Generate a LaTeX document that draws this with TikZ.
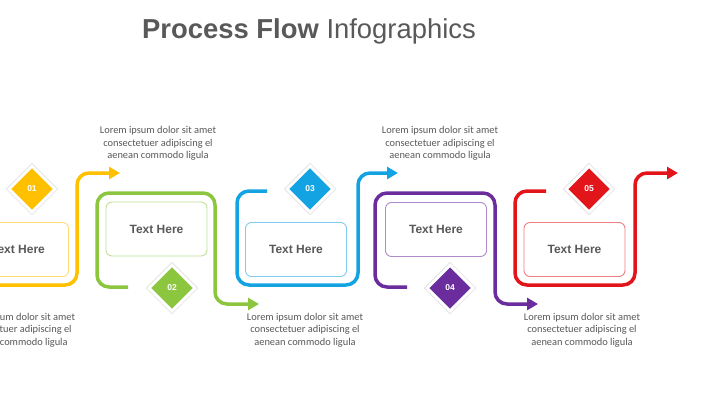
\documentclass[tikz,border=0pt]{standalone}
\usepackage{fontspec}
\setmainfont{Liberation Sans}
\newfontfamily\lorem{Carlito}
\usepackage{xcolor}
\usetikzlibrary{arrows.meta,shapes.geometric}
\definecolor{ink}{HTML}{595959}
\definecolor{cyel}{HTML}{FFC000}
\definecolor{cgrn}{HTML}{8CC63F}
\definecolor{cblu}{HTML}{13A3E3}
\definecolor{cpur}{HTML}{6B2D9E}
\definecolor{cred}{HTML}{E2151B}
\tikzset{
  flow/.style={line width=3.5pt,rounded corners=12pt,#1,-{Triangle[length=11pt,width=12pt]}},
  textbox/.style={draw=#1!55,line width=0.9pt,rounded corners=6pt,minimum width=101pt,
    minimum height=54pt,inner sep=0pt,text=ink,font=\fontsize{12}{14}\selectfont\bfseries},
  badge/.style={diamond,fill=#1,draw=white,line width=3pt,minimum size=47pt,inner sep=0pt,
    text=white,font=\fontsize{8.5}{9}\selectfont\bfseries,preaction={draw=black!12,line width=4.5pt}},
  note/.style={align=center,text=ink,font=\lorem\fontsize{10.4}{12.4}\selectfont}
}
\begin{document}
\begin{tikzpicture}[x=1pt,y=-1pt]
\useasboundingbox[fill=white](0,0)rectangle(720,404);
% title
\node[text=ink,font=\fontsize{27.4}{32}\selectfont](title)at(309,31){\textbf{Process Flow} Infographics};
% flow lines
\draw[flow=cyel](-20,285)--(77,285)--(77,173)--(120,173);
\draw[flow=cgrn](128,287)--(97,287)--(97,193)--(215,193)--(215,304)--(259,304);
\draw[flow=cblu](267,191)--(237,191)--(237,285)--(358,285)--(358,173)--(398,173);
\draw[flow=cpur](407,287)--(375,287)--(375,193)--(495,193)--(495,304)--(538,304);
\draw[flow=cred](546,191)--(515,191)--(515,285)--(635,285)--(635,173)--(678,173);
% boxes
\node[textbox=cyel](box1)at(18,249.5){Text Here};
\node[textbox=cgrn](box2)at(156.5,229){Text Here};
\node[textbox=cblu](box3)at(296,249.5){Text Here};
\node[textbox=cpur](box4)at(436,229.5){Text Here};
\node[textbox=cred](box5)at(574.5,249.5){Text Here};
% badges
\node[badge=cyel](d1)at(32,189){01};
\node[badge=cgrn](d2)at(172,288){02};
\node[badge=cblu](d3)at(310,189){03};
\node[badge=cpur](d4)at(450,288){04};
\node[badge=cred](d5)at(589,189){05};
% notes
\node[note](n1)at(17,330){Lorem ipsum dolor sit amet\\consectetuer adipiscing el\\aenean commodo ligula};
\node[note](n2)at(158,143.5){Lorem ipsum dolor sit amet\\consectetuer adipiscing el\\aenean commodo ligula};
\node[note](n3)at(305,330){Lorem ipsum dolor sit amet\\consectetuer adipiscing el\\aenean commodo ligula};
\node[note](n4)at(440,143.5){Lorem ipsum dolor sit amet\\consectetuer adipiscing el\\aenean commodo ligula};
\node[note](n5)at(582,330){Lorem ipsum dolor sit amet\\consectetuer adipiscing el\\aenean commodo ligula};
\end{tikzpicture}
\end{document}
